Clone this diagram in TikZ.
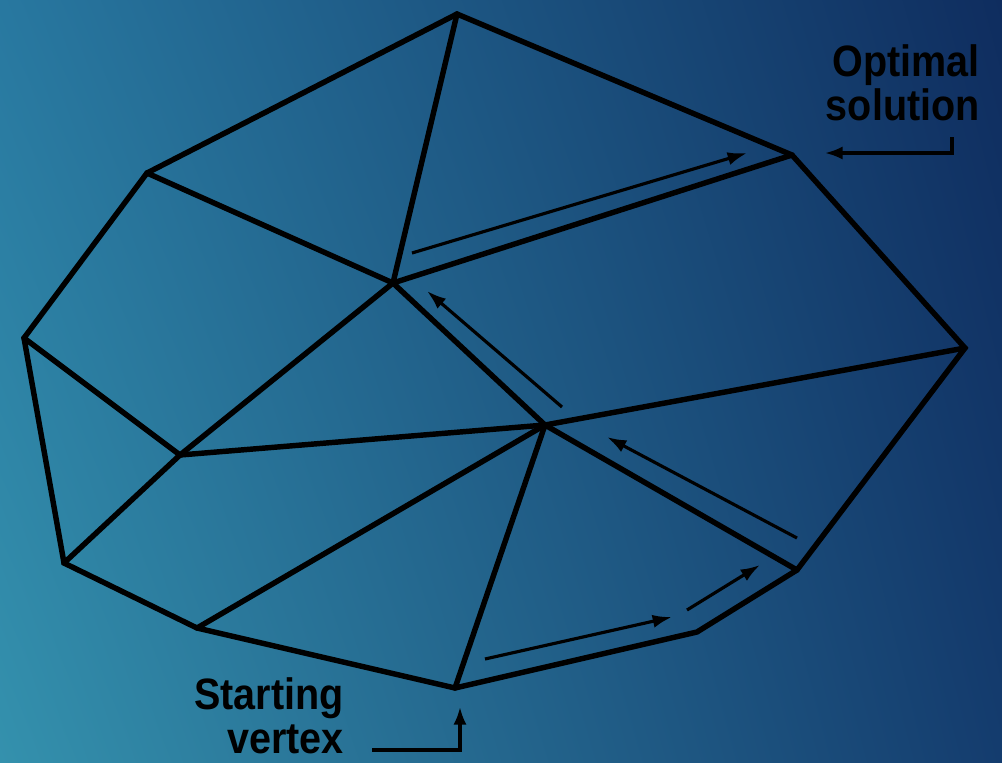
\documentclass[tikz,border=0pt]{standalone}
\usepackage{fontspec}
\setmainfont{Liberation Sans}
\usetikzlibrary{arrows.meta, shadings}
\definecolor{bgUL}{RGB}{40,120,160}
\definecolor{bgUR}{RGB}{15,45,95}
\definecolor{bgLL}{RGB}{52,145,173}
\definecolor{bgLR}{RGB}{20,60,110}

\begin{document}
\begin{tikzpicture}[
    x=0.02cm, y=-0.02cm,
    hull/.style={line width=3.1pt, black, line join=miter},
    edge/.style={line width=3.1pt, black, line cap=round},
    walk/.style={-{Latex[length=11pt, width=7.5pt]}, line width=1.8pt, black},
    pointer/.style={-{Latex[length=10pt, width=7.5pt]}, line width=1.8pt, black},
    lbl/.style={font=\fontsize{25}{25.5}\selectfont\bfseries, text=black, align=right, inner sep=0pt, xscale=0.9},
]

% === Background ===
\shade[upper left=bgUL, upper right=bgUR, lower left=bgLL, lower right=bgLR]
    (0,0) rectangle (1002,762);
\useasboundingbox (0,0) rectangle (1002,762);

% === Vertices of the polytope ===
\coordinate (top)   at (457, 14);
\coordinate (opt)   at (792, 155);
\coordinate (rgt)   at (965, 348);
\coordinate (br2)   at (797, 570);
\coordinate (br1)   at (697, 632);
\coordinate (start) at (455, 688);
\coordinate (bl)    at (197, 628);
\coordinate (ll)    at (64, 563);
\coordinate (lft)   at (24, 338);
\coordinate (ul)    at (147, 173);

% === Inner vertices ===
\coordinate (c1) at (393, 283);
\coordinate (c2) at (545, 425);
\coordinate (c3) at (180, 455);

% === Outer boundary ===
\draw[hull] (top) -- (opt) -- (rgt) -- (br2) -- (br1) -- (start) -- (bl) -- (ll) -- (lft) -- (ul) -- cycle;

% === Inner edges ===
\draw[edge] (top) -- (c1);
\draw[edge] (ul) -- (c1);
\draw[edge] (c1) -- (opt);
\draw[edge] (c1) -- (c3);
\draw[edge] (c1) -- (c2);
\draw[edge] (lft) -- (c3);
\draw[edge] (c3) -- (ll);
\draw[edge] (c3) -- (c2);
\draw[edge] (c2) -- (rgt);
\draw[edge] (c2) -- (bl);
\draw[edge] (c2) -- (start);
\draw[edge] (c2) -- (br2);

% === Path of the walk ===
\coordinate (w1a) at (485, 659); \coordinate (w1b) at (672, 617);
\coordinate (w2a) at (687, 610); \coordinate (w2b) at (760, 565);
\coordinate (w3a) at (797, 538); \coordinate (w3b) at (607, 437);
\coordinate (w4a) at (562, 407); \coordinate (w4b) at (427, 291);
\coordinate (w5a) at (412, 253); \coordinate (w5b) at (747, 153);

\draw[walk] (w1a) -- (w1b);
\draw[walk] (w2a) -- (w2b);
\draw[walk] (w3a) -- (w3b);
\draw[walk] (w4a) -- (w4b);
\draw[walk] (w5a) -- (w5b);

% === Labels ===
\node[lbl, anchor=north east] (optlbl) at (980, 44) {Optimal\\solution};
\coordinate (optfoot) at (952, 137);
\coordinate (opttip)  at (825, 153);
\draw[pointer] (optfoot) |- (opttip);

\node[lbl, anchor=north east] (startlbl) at (344, 677) {Starting\\vertex};
\coordinate (startfoot) at (372, 750);
\coordinate (starttip)  at (460, 707);
\draw[pointer] (startfoot) -| (starttip);

\end{tikzpicture}
\end{document}
